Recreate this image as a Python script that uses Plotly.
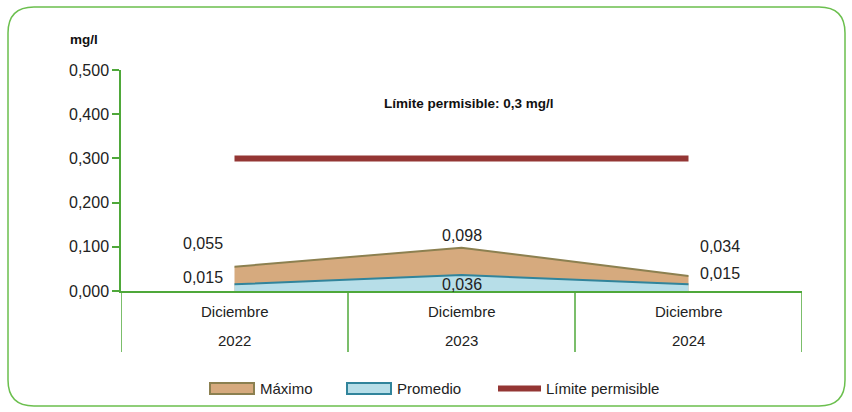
import plotly.graph_objects as go

# data
meses = ['Diciembre', 'Diciembre', 'Diciembre']
anios = ['2022', '2023', '2024']
maximo = [0.055, 0.098, 0.034]
promedio = [0.015, 0.036, 0.015]
limite = [0.3, 0.3, 0.3]
y_ticks = [0.0, 0.1, 0.2, 0.3, 0.4, 0.5]
series = ['Máximo', 'Promedio', 'Límite permisible']

FONT = 'Liberation Sans Narrow, Arial Narrow, Liberation Sans, Arial, sans-serif'
GREEN = '#4FA83A'
FILLS = ['#D6AA7E', '#B7DEE8', '#943634']
EDGES = ['#8C8050', '#31849B', '#943634']
x = list(range(len(anios)))

fig = go.Figure()
fig.add_trace(go.Scatter(x=x, y=maximo, name=series[0], mode='lines', fill='tozeroy',
                         fillcolor=FILLS[0], line=dict(color=EDGES[0], width=2)))
fig.add_trace(go.Scatter(x=x, y=promedio, name=series[1], mode='lines', fill='tozeroy',
                         fillcolor=FILLS[1], line=dict(color=EDGES[1], width=2)))
fig.add_trace(go.Scatter(x=x, y=limite, name=series[2], mode='lines',
                         line=dict(color=EDGES[2], width=6)))

def fmt(v):
    return f'{v:.3f}'.replace('.', ',')

# data labels: (xanchor, xshift, yshift)
offs_max = [('right', -10, 23), ('center', 0, 12), ('left', 9, 29)]
offs_prom = [('right', -10, 7), ('center', 0, -9), ('left', 9, 11)]
for i in x:
    a, dx, dy = offs_max[i]
    fig.add_annotation(x=i, y=maximo[i], text=fmt(maximo[i]), showarrow=False,
                       xanchor=a, xshift=dx, yshift=dy, font=dict(size=16, color='#222'))
    a, dx, dy = offs_prom[i]
    fig.add_annotation(x=i, y=promedio[i], text=fmt(promedio[i]), showarrow=False,
                       xanchor=a, xshift=dx, yshift=dy, font=dict(size=16, color='#222'))
    # category labels (two rows)
    fig.add_annotation(x=i, y=0, text=meses[i], showarrow=False, yshift=-20,
                       font=dict(size=15, color='#222'))
    fig.add_annotation(x=i, y=0, text=anios[i], showarrow=False, yshift=-49,
                       font=dict(size=15, color='#222'))

# category separators
for xs in [-0.5, 0.5, 1.5, 2.5]:
    fig.add_shape(type='line', xref='x', yref='paper', x0=xs, x1=xs, y0=0, y1=-0.276,
                  line=dict(color=GREEN, width=1.5))

# pixel -> paper helpers
def px(v):
    return (v - 121) / 681
def py(v):
    return (291 - v) / 221

fig.add_annotation(xref='paper', yref='paper', x=px(469), y=py(103), xanchor='center', yanchor='middle',
                   text='<b>Límite permisible: 0,3 mg/l</b>', showarrow=False,
                   font=dict(size=13.5, color='#111'))
fig.add_annotation(xref='paper', yref='paper', x=px(84), y=py(39), xanchor='center', yanchor='middle',
                   text='<b>mg/l</b>', showarrow=False, font=dict(size=13.5, color='#111'))

# legend drawn by hand (box symbols)
sym_x = [210, 347, 496]
for k, name in enumerate(series):
    x0 = sym_x[k]
    if k < 2:
        fig.add_shape(type='rect', xref='paper', yref='paper', x0=px(x0), x1=px(x0 + 44),
                      y0=py(394), y1=py(383), fillcolor=FILLS[k],
                      line=dict(color=EDGES[k], width=2))
    else:
        fig.add_shape(type='line', xref='paper', yref='paper', x0=px(x0 + 2), x1=px(x0 + 45),
                      y0=py(388.5), y1=py(388.5), line=dict(color=EDGES[k], width=6))
    fig.add_annotation(xref='paper', yref='paper', x=px(x0 + 48), y=py(388.5),
                       xanchor='left', yanchor='middle', text=name, showarrow=False,
                       font=dict(size=15, color='#222'))

# rounded outer border
L, R, T, B, r = 8, 845, 7, 406, 26
path = (f'M {px(L+r)},{py(T)} L {px(R-r)},{py(T)} Q {px(R)},{py(T)} {px(R)},{py(T+r)} '
        f'L {px(R)},{py(B-r)} Q {px(R)},{py(B)} {px(R-r)},{py(B)} '
        f'L {px(L+r)},{py(B)} Q {px(L)},{py(B)} {px(L)},{py(B-r)} '
        f'L {px(L)},{py(T+r)} Q {px(L)},{py(T)} {px(L+r)},{py(T)} Z')
fig.add_shape(type='path', xref='paper', yref='paper', path=path,
              line=dict(color='#6BBF4E', width=1.5), layer='below')

fig.update_layout(
    width=852, height=412,
    margin=dict(l=121, r=50, t=70, b=121),
    paper_bgcolor='white', plot_bgcolor='white',
    separators=',.',
    font=dict(family=FONT, size=16, color='#222'),
    showlegend=False,
    xaxis=dict(range=[-0.5, 2.5], showticklabels=False, showgrid=False, zeroline=False,
               showline=True, linecolor=GREEN, linewidth=1.5, ticks=''),
    yaxis=dict(range=[0, 0.5], tickvals=y_ticks, tickformat='.3f', showgrid=False,
               zeroline=False, showline=True, linecolor=GREEN, linewidth=1.5,
               ticks='outside', ticklen=7, tickcolor=GREEN, tickwidth=1.5,
               tickfont=dict(size=16)),
)

fig.write_html('out.html', config={'displayModeBar': False},
               post_script="document.body.style.margin='0';")
